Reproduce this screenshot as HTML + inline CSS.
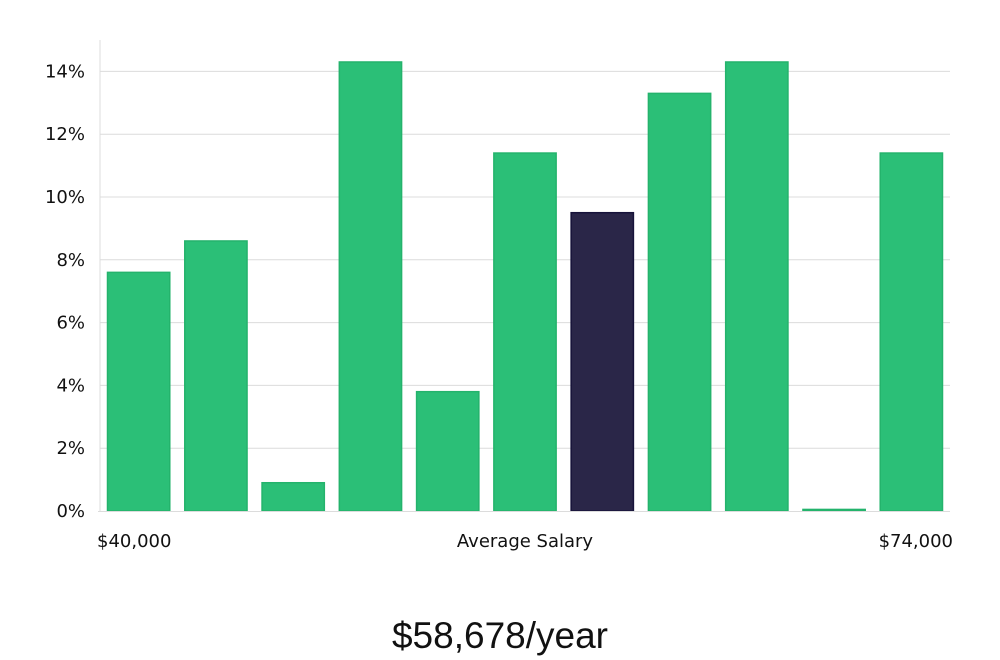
<!DOCTYPE html>
<html><head><meta charset="utf-8"><style>
html,body{margin:0;padding:0;background:#fff;width:1000px;height:660px;overflow:hidden;font-family:"DejaVu Sans","Liberation Sans",sans-serif;}
</style></head><body>
<svg id="chart" width="1000" height="660" xmlns="http://www.w3.org/2000/svg"></svg>
<script>
const categories = ["b1","b2","b3","b4","b5","b6","b7","b8","b9","b10","b11"];
const values = [7.6, 8.6, 0.9, 14.3, 3.8, 11.4, 9.5, 13.3, 14.3, 0.05, 11.4];
const highlightIndex = 6;
const yTicks = [0, 2, 4, 6, 8, 10, 12, 14];
const xLabels = ["$40,000", "Average Salary", "$74,000"];
const summary = "$58,678/year";

const NS = "http://www.w3.org/2000/svg";
const svgEl = document.getElementById('chart');
const plotLeft = 100, plotRight = 950, plotTop = 40, plotBottom = 511, yMax = 15;
const yScale = v => plotBottom - (v / yMax) * (plotBottom - plotTop);
const step = (plotRight - plotLeft) / categories.length;
const xScale = i => plotLeft + i * step;
function mk(tag, attrs) { const e = document.createElementNS(NS, tag); for (const k in attrs) e.setAttribute(k, attrs[k]); svgEl.appendChild(e); return e; }

yTicks.forEach(t => {
  if (t > 0) {
    const g = mk('line', {x1: plotLeft, x2: plotRight, y1: yScale(t), y2: yScale(t), stroke: '#dcdcdc', 'stroke-width': 1});
    
    
  }
  const lb = mk('text', {x: 85, y: yScale(t) + 6, 'text-anchor': 'end', 'font-size': 18, fill: '#111'});
  lb.textContent = t + '%';
  
  
});
const ax = mk('line', {x1: plotLeft, x2: plotLeft, y1: plotTop, y2: plotBottom, stroke: '#dcdcdc', 'stroke-width': 1});



values.forEach((v, i) => {
  const hi = i === highlightIndex;
  const h = Math.max(plotBottom - yScale(v), 1.5);
  const r = mk('rect', {x: xScale(i) + 7.5, y: plotBottom - h, width: step - 15, height: h,
    fill: hi ? '#2a2648' : '#2bbf77', stroke: hi ? '#17133a' : '#24b36c', 'stroke-width': 1.5});
  
  
});
const bl = mk('line', {x1: plotLeft - 2, x2: plotRight, y1: plotBottom + 0.5, y2: plotBottom + 0.5, stroke: '#dcdcdc', 'stroke-width': 1});



const xl = [[97, 'start'], [525, 'middle'], [953, 'end']];
xLabels.forEach((s, i) => {
  const t = mk('text', {x: xl[i][0], y: 547, 'text-anchor': xl[i][1], 'font-size': 18, fill: '#111'});
  t.textContent = s;
  
  
});
const sm = mk('text', {x: 500, y: 648, 'text-anchor': 'middle', 'font-size': 37, fill: '#111', 'font-family': '"Liberation Sans", sans-serif'});
sm.textContent = summary;


</script>
</body></html>
